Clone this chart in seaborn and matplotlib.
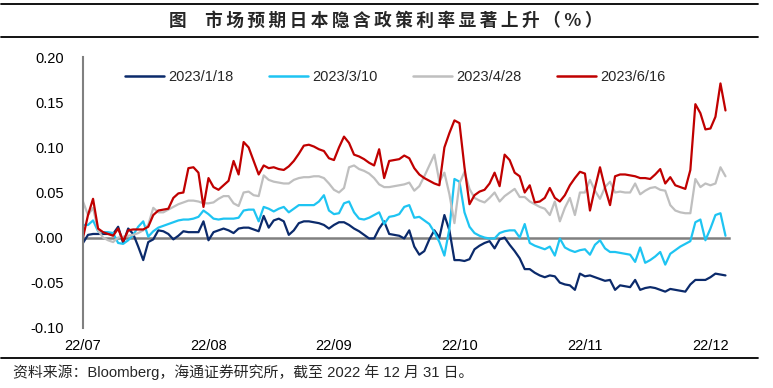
import numpy as np
import pandas as pd
import matplotlib
matplotlib.use("Agg")
import matplotlib.pyplot as plt
import seaborn as sns

# ---------------- data ----------------
series_names = ["2023/1/18", "2023/3/10", "2023/4/28", "2023/6/16"]
series_colors = ["#0B2A6B", "#1EC4F2", "#BFBFBF", "#C00000"]
x_tick_labels = ["22/07", "22/08", "22/09", "22/10", "22/11", "22/12"]
x_tick_pos = [0, 25, 50, 75, 100, 125]
y_ticks = [-0.10, -0.05, 0.00, 0.05, 0.10, 0.15, 0.20]

s_0118 = [-0.006, 0.003, 0.004, 0.004, 0.004, 0.004, 0.004, 0.012, -0.006, 0.010,
          0.004, -0.010, -0.025, -0.005, -0.002, 0.008, 0.007, 0.004, -0.002, 0.002,
          0.007, 0.006, 0.006, 0.006, 0.018, -0.003, 0.006, 0.008, 0.010, 0.008,
          0.005, 0.010, 0.011, 0.011, 0.009, 0.007, 0.024, 0.011, 0.019, 0.021,
          0.018, 0.003, 0.008, 0.016, 0.018, 0.018, 0.017, 0.016, 0.014, 0.010,
          0.014, 0.017, 0.017, 0.014, 0.010, 0.007, 0.003, -0.001, -0.001, 0.010,
          0.018, 0.004, 0.003, 0.002, -0.001, 0.008, -0.010, -0.019, -0.015, -0.002,
          0.008, 0.000, 0.025, 0.008, -0.025, -0.025, -0.026, -0.024, -0.013, -0.009,
          -0.006, -0.004, -0.012, -0.002, 0.000, -0.008, -0.015, -0.023, -0.035, -0.035,
          -0.039, -0.042, -0.044, -0.042, -0.043, -0.050, -0.052, -0.053, -0.058, -0.040,
          -0.043, -0.042, -0.044, -0.046, -0.048, -0.047, -0.058, -0.053, -0.054, -0.055,
          -0.047, -0.058, -0.056, -0.055, -0.056, -0.058, -0.060, -0.057, -0.058, -0.059,
          -0.060, -0.052, -0.047, -0.047, -0.047, -0.044, -0.040, -0.041, -0.042]

s_0310 = [0.014, 0.014, 0.019, 0.007, 0.006, 0.006, 0.005, -0.006, -0.007, -0.003,
          0.003, 0.012, 0.018, 0.001, 0.007, 0.011, 0.013, 0.015, 0.017, 0.019,
          0.020, 0.020, 0.021, 0.023, 0.030, 0.026, 0.021, 0.020, 0.021, 0.021,
          0.021, 0.022, 0.030, 0.031, 0.031, 0.018, 0.034, 0.032, 0.029, 0.032,
          0.034, 0.028, 0.032, 0.036, 0.036, 0.036, 0.036, 0.040, 0.047, 0.030,
          0.026, 0.027, 0.038, 0.040, 0.028, 0.021, 0.020, 0.022, 0.025, 0.028,
          0.015, 0.023, 0.024, 0.026, 0.034, 0.036, 0.022, 0.023, 0.019, 0.015,
          0.006, -0.005, -0.020, 0.010, 0.065, 0.062, 0.028, 0.012, 0.005, 0.002,
          0.000, -0.001, -0.001, 0.005, 0.007, 0.008, 0.008, 0.000, 0.015, -0.006,
          -0.009, -0.011, -0.013, -0.010, -0.020, -0.001, -0.011, -0.014, -0.016, -0.014,
          -0.013, -0.019, -0.008, -0.003, -0.012, -0.016, -0.016, -0.017, -0.018, -0.019,
          -0.027, -0.011, -0.028, -0.025, -0.021, -0.016, -0.030, -0.018, -0.014, -0.010,
          -0.007, -0.004, 0.017, 0.020, -0.003, 0.010, 0.025, 0.027, 0.002]

s_0428 = [0.040, 0.025, 0.033, 0.008, 0.000, -0.003, -0.005, 0.000, 0.001, 0.002,
          0.003, 0.005, 0.008, 0.014, 0.033, 0.028, 0.028, 0.031, 0.034, 0.037,
          0.039, 0.041, 0.041, 0.040, 0.038, 0.038, 0.039, 0.043, 0.046, 0.046,
          0.038, 0.035, 0.050, 0.051, 0.047, 0.046, 0.069, 0.064, 0.062, 0.061,
          0.060, 0.060, 0.064, 0.066, 0.067, 0.067, 0.068, 0.068, 0.066, 0.060,
          0.053, 0.050, 0.055, 0.078, 0.080, 0.076, 0.074, 0.071, 0.066, 0.059,
          0.056, 0.056, 0.057, 0.058, 0.059, 0.061, 0.052, 0.057, 0.068, 0.080,
          0.092, 0.062, 0.072, 0.048, 0.016, 0.060, 0.073, 0.054, 0.044, 0.041,
          0.039, 0.044, 0.050, 0.040, 0.046, 0.050, 0.054, 0.045, 0.045, 0.040,
          0.037, 0.034, 0.032, 0.025, 0.040, 0.018, 0.033, 0.044, 0.025, 0.050,
          0.050, 0.064, 0.052, 0.043, 0.056, 0.062, 0.050, 0.051, 0.050, 0.050,
          0.060, 0.048, 0.052, 0.055, 0.056, 0.053, 0.052, 0.036, 0.030, 0.028,
          0.027, 0.027, 0.065, 0.056, 0.060, 0.058, 0.060, 0.078, 0.068]

s_0616 = [0.000, 0.025, 0.043, 0.010, 0.006, 0.004, 0.002, 0.010, -0.004, 0.008,
          0.009, 0.009, 0.009, 0.012, 0.025, 0.030, 0.031, 0.032, 0.044, 0.049,
          0.050, 0.077, 0.078, 0.072, 0.034, 0.066, 0.056, 0.053, 0.058, 0.063,
          0.085, 0.070, 0.106, 0.100, 0.085, 0.070, 0.080, 0.077, 0.078, 0.076,
          0.075, 0.079, 0.085, 0.093, 0.102, 0.103, 0.101, 0.098, 0.096, 0.088,
          0.086, 0.100, 0.112, 0.105, 0.092, 0.090, 0.087, 0.083, 0.080, 0.098,
          0.066, 0.085, 0.086, 0.087, 0.091, 0.088, 0.077, 0.070, 0.066, 0.063,
          0.060, 0.058, 0.100, 0.116, 0.130, 0.127, 0.078, 0.037, 0.047, 0.051,
          0.053, 0.060, 0.072, 0.057, 0.092, 0.086, 0.072, 0.068, 0.050, 0.058,
          0.039, 0.040, 0.044, 0.055, 0.044, 0.040, 0.047, 0.058, 0.066, 0.073,
          0.071, 0.030, 0.055, 0.078, 0.055, 0.036, 0.068, 0.070, 0.070, 0.069,
          0.068, 0.066, 0.066, 0.065, 0.070, 0.076, 0.060, 0.067, 0.058, 0.056,
          0.054, 0.075, 0.148, 0.138, 0.120, 0.121, 0.134, 0.171, 0.141]

all_series = [s_0118, s_0310, s_0428, s_0616]

title_text = "图  市场预期日本隐含政策利率显著上升（%）"
source_text = "资料来源：Bloomberg，海通证券研究所，截至 2022 年 12 月 31 日。"

# ---------------- build long table ----------------
frames = []
for name, vals in zip(series_names, all_series):
    frames.append(pd.DataFrame({"idx": np.arange(len(vals)), "val": vals, "series": name}))
df = pd.concat(frames, ignore_index=True)

# ---------------- style ----------------
sns.set_theme(style="white")
plt.rcParams["font.family"] = ["Liberation Sans", "Noto Sans CJK SC", "DejaVu Sans"]
plt.rcParams["axes.unicode_minus"] = False

fig = plt.figure(figsize=(7.73, 3.88), dpi=100)
ax = fig.add_axes([83 / 773, 1 - 327.7 / 388, 646.5 / 773, (327.7 - 57.3) / 388])

sns.lineplot(data=df, x="idx", y="val", hue="series", hue_order=series_names,
             palette=dict(zip(series_names, series_colors)), linewidth=1.6,
             sort=False, estimator=None, ax=ax)
for ln in ax.get_lines():
    ln.set_solid_joinstyle("round")

ax.set_xlim(0, 128.8)
ax.set_ylim(-0.10, 0.20)
ax.set_yticks(y_ticks)
ax.set_yticklabels([f"{v:.2f}" for v in y_ticks], fontsize=10.5, color="black")
ax.set_xlabel("")
ax.set_ylabel("")

spine_gray = "#808080"
for s in ["top", "right"]:
    ax.spines[s].set_visible(False)
ax.spines["left"].set_color(spine_gray)
ax.spines["left"].set_linewidth(1.5)
ax.spines["bottom"].set_position(("data", 0))
ax.spines["bottom"].set_color(spine_gray)
ax.spines["bottom"].set_linewidth(1.8)
ax.spines["bottom"].set_zorder(1)

ax.tick_params(axis="y", direction="in", length=4.5, width=1.2, color=spine_gray, pad=14)
ax.set_xticks(x_tick_pos)
ax.tick_params(axis="x", direction="in", length=3.5, width=1.2, color=spine_gray, labelbottom=False)

sec = ax.secondary_xaxis("bottom")
sec.set_xticks(x_tick_pos)
sec.set_xticklabels(x_tick_labels, fontsize=10.5, color="black")
sec.tick_params(length=0, pad=8)
sec.spines["bottom"].set_visible(False)

leg = ax.legend(loc="upper left", bbox_to_anchor=(36 / 646.5, 0.975), ncol=4, frameon=False,
                fontsize=10.5, handlelength=2.7, handletextpad=0.25, columnspacing=2.45,
                borderaxespad=0)
for line in leg.get_lines():
    line.set_linewidth(1.8)

# ---------------- title / source ----------------
for yy in [4, 37, 357.5]:
    fig.add_artist(plt.Line2D([0.5 / 773, 758 / 773], [1 - yy / 388, 1 - yy / 388],
                              color="black", lw=1.3))

spaced_title = "\u2009".join(list(title_text))
fig.text(386 / 773, 1 - 20.5 / 388, spaced_title, ha="center", va="center",
         fontsize=12.7, fontweight="bold", family=["Noto Sans CJK SC", "DejaVu Sans"])
fig.text(13 / 773, 1 - 372 / 388, source_text,
         ha="left", va="center", fontsize=10.7, family=["Liberation Sans", "Noto Sans CJK SC"])

fig.savefig("out.png", dpi=100)
